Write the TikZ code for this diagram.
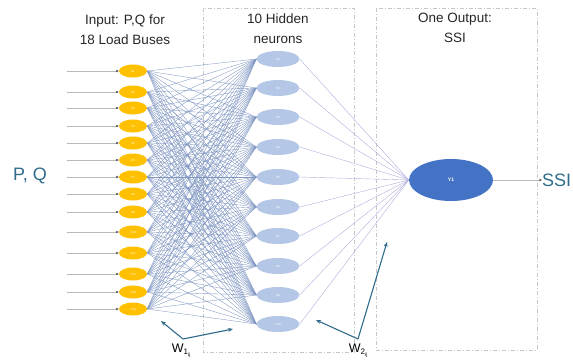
\documentclass[tikz,border=0pt]{standalone}
\usepackage{fontspec}
\setmainfont{Liberation Sans}
\usepackage{tikz}
\usetikzlibrary{arrows.meta, shapes}

\definecolor{inorange}{HTML}{FFC000}
\definecolor{hidblue}{HTML}{B4C7E7}
\definecolor{outblue}{HTML}{4472C4}
\definecolor{wireblue}{HTML}{7F96C2}
\definecolor{tealtext}{HTML}{2F6C8C}

\begin{document}
\begin{tikzpicture}[x=1pt, y=-1pt]
            \useasboundingbox (0,0) rectangle (573,360);

            % layer frames
            \begin{scope}[every path/.style={draw=gray!45, thin, dash pattern=on 4pt off 2pt on 1pt off 2pt}]
                \draw (203,8) rectangle (354,352);
                \draw (376,8) rectangle (537,350);
            \end{scope}

            \begin{scope}[every node/.style={align=center, font=\fontsize{13.5}{20}\selectfont, text=black!85}]
                \node (tin) at (125,30) {Input: P,Q for\\18 Load Buses};
                \node (thid) at (278,29) {10 Hidden\\neurons};
                \node (tout) at (455,28) {One Output:\\SSI};
            \end{scope}

            \begin{scope}[every node/.style={ellipse, inner sep=0pt, text=white, font=\fontsize{3}{3}\selectfont}]
                \foreach \y [count=\i] in {71,92,108,126,143,160,177,194,212,232,253,274,292,309}
                    \node[fill=inorange, minimum width=28pt, minimum height=13pt] (in\i) at (133,\y) {X\i};
                \foreach \y [count=\i] in {59,88,117,147,177,207,236,266,295,324}
                    \node[fill=hidblue, minimum width=43pt, minimum height=16pt] (hid\i) at (278,\y) {H\i};
                \node[fill=outblue, minimum width=84pt, minimum height=42pt, font=\fontsize{5}{5}\selectfont\bfseries] (out) at (451,180) {Y1};
            \end{scope}

            \begin{scope}[every node/.style={text=tealtext, font=\fontsize{18}{18}\selectfont}]
                \node (pq) at (30,176) {P, Q};
                \node[anchor=west, inner sep=0pt] (ssi) at (542,180) {SSI};
            \end{scope}

            % weights
            \begin{scope}[every path/.style={draw=wireblue, line width=0.35pt}]
                \foreach \i in {1,...,14}
                    \foreach \j in {1,...,10}
                        \draw (in\i.east) -- (hid\j.west);
            \end{scope}
            \begin{scope}[every path/.style={draw=gray!60!blue!45, line width=0.4pt}]
                \foreach \j in {1,...,10}
                    \draw (hid\j.east) -- (out.west);
            \end{scope}

            % inputs and output
            \begin{scope}[>={Stealth[length=3pt, width=2.5pt, black!70]},
                          every path/.style={draw=gray!55, line width=0.5pt}]
                \foreach \i in {1,...,14}
                    \draw[->] (in\i.west) ++(-52,0) coordinate (src\i) -- (in\i.west);
                \draw[->] (out.east) -- (ssi.west);
            \end{scope}

            % weight labels
            \coordinate (wa) at (183,339);
            \coordinate (wb) at (358,339);
            \coordinate (wa1) at (161,321);
            \coordinate (wa2) at (233,329);
            \coordinate (wb1) at (316,320);
            \coordinate (wb2) at (387,242);
            \begin{scope}[>={Stealth[length=5pt, width=4pt]},
                          every path/.style={draw=tealtext, line width=1.1pt}]
                \draw[->] (wa) -- (wa1);
                \draw[->] (wa) -- (wa2);
                \draw[->] (wb) -- (wb1);
                \draw[->] (wb) -- (wb2);
            \end{scope}
            \node[font=\fontsize{12.5}{12.5}\selectfont, anchor=north, inner sep=0pt] (w1) at (181,344) {W\raisebox{-0.3ex}{\footnotesize 1\raisebox{-0.3ex}{\tiny ij}}};
            \node[font=\fontsize{12.5}{12.5}\selectfont, anchor=north, inner sep=0pt] (w2) at (358,344) {W\raisebox{-0.3ex}{\footnotesize 2\raisebox{-0.3ex}{\tiny ij}}};

            \end{tikzpicture}
\end{document}
